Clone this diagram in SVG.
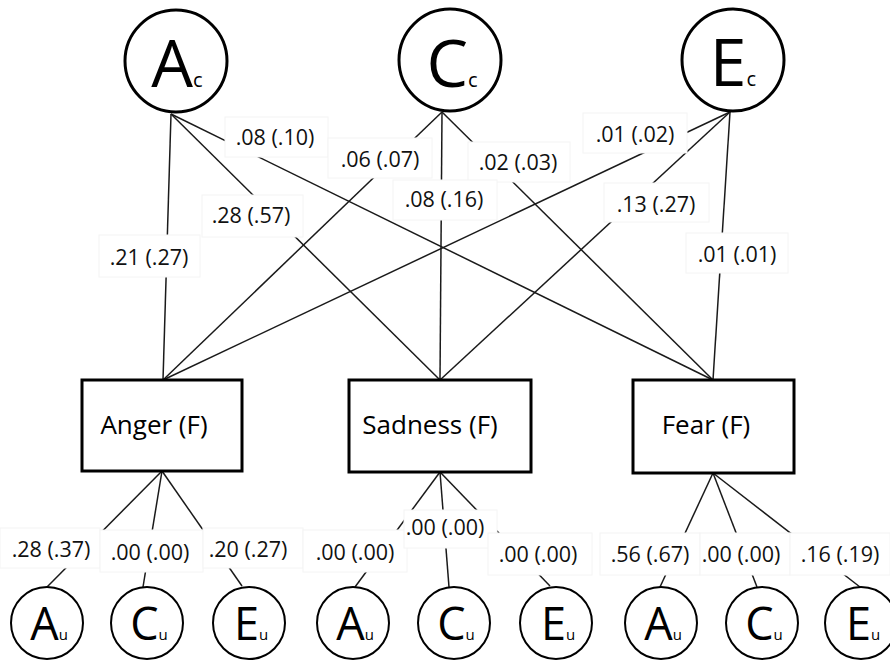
<svg xmlns="http://www.w3.org/2000/svg" width="890" height="662" viewBox="0 0 890 662">
  <style>
    .edge { stroke: #1a1a1a; stroke-width: 1.5; fill: none; }
    .lbl rect { fill: #ffffff; stroke: #f4f4f4; stroke-width: 1; }
    .lbl text { font-family: "Open Sans", "Liberation Sans", sans-serif; font-size: 21.5px; fill: #111; text-anchor: middle; }
    .big { fill: #ffffff; stroke: #000; stroke-width: 3; }
    .small { fill: #ffffff; stroke: #000; stroke-width: 2; }
    .box { fill: #ffffff; stroke: #000; stroke-width: 3; }
    .nt { font-family: "Open Sans", "Liberation Sans", sans-serif; fill: #000; text-anchor: middle; }
  </style>

  <!-- connectors -->
  <g id="connectors" class="edge">
    <!-- common factors to phenotypic factors -->
    <line x1="171" y1="114" x2="163" y2="380"/>
    <line x1="171" y1="114" x2="440" y2="380"/>
    <line x1="171" y1="114" x2="713" y2="380"/>
    <line x1="442" y1="112" x2="163" y2="380"/>
    <line x1="442" y1="112" x2="440" y2="380"/>
    <line x1="442" y1="112" x2="713" y2="380"/>
    <line x1="730" y1="112" x2="163" y2="380"/>
    <line x1="730" y1="112" x2="440" y2="380"/>
    <line x1="730" y1="112" x2="713" y2="380"/>
    <!-- phenotypic factors to unique factors -->
    <line x1="162" y1="471" x2="47" y2="587"/>
    <line x1="162" y1="471" x2="143" y2="587"/>
    <line x1="162" y1="471" x2="242" y2="586"/>
    <line x1="440" y1="472" x2="355" y2="587"/>
    <line x1="440" y1="472" x2="449" y2="587"/>
    <line x1="440" y1="472" x2="550" y2="586"/>
    <line x1="713" y1="473" x2="660" y2="587"/>
    <line x1="713" y1="473" x2="757" y2="587"/>
    <line x1="713" y1="473" x2="860" y2="587"/>
  </g>

  <!-- path coefficients -->
  <g id="labels">
    <g class="lbl"><rect x="225" y="117" width="103" height="40"/><text x="275" y="145">.08 (.10)</text></g>
    <g class="lbl"><rect x="328" y="138" width="104" height="40"/><text x="380" y="167">.06 (.07)</text></g>
    <g class="lbl"><rect x="468" y="142" width="102" height="40"/><text x="518" y="170">.02 (.03)</text></g>
    <g class="lbl"><rect x="583" y="113" width="104" height="40"/><text x="635" y="142">.01 (.02)</text></g>
    <g class="lbl"><rect x="393" y="180" width="104" height="40"/><text x="444" y="207">.08 (.16)</text></g>
    <g class="lbl"><rect x="202" y="195" width="101" height="42"/><text x="251" y="223">.28 (.57)</text></g>
    <g class="lbl"><rect x="604" y="183" width="105" height="39"/><text x="656" y="212">.13 (.27)</text></g>
    <g class="lbl"><rect x="99" y="235" width="101" height="42"/><text x="149" y="265">.21 (.27)</text></g>
    <g class="lbl"><rect x="686" y="233" width="102" height="40"/><text x="737" y="262">.01 (.01)</text></g>

    <g class="lbl"><rect x="0" y="528" width="100" height="40"/><text x="51" y="557">.28 (.37)</text></g>
    <g class="lbl"><rect x="100" y="530" width="103" height="42"/><text x="150" y="560">.00 (.00)</text></g>
    <g class="lbl"><rect x="203" y="528" width="100" height="40"/><text x="248" y="557">.20 (.27)</text></g>
    <g class="lbl"><rect x="303" y="530" width="104" height="42"/><text x="355" y="560">.00 (.00)</text></g>
    <g class="lbl"><rect x="404" y="510" width="93" height="38"/><text x="445" y="535">.00 (.00)</text></g>
    <g class="lbl"><rect x="488" y="533" width="104" height="42"/><text x="538" y="562">.00 (.00)</text></g>
    <g class="lbl"><rect x="600" y="533" width="100" height="42"/><text x="650" y="562">.56 (.67)</text></g>
    <g class="lbl"><rect x="700" y="533" width="90" height="42"/><text x="741" y="562">.00 (.00)</text></g>
    <g class="lbl"><rect x="790" y="533" width="100" height="42"/><text x="840" y="562">.16 (.19)</text></g>
  </g>

  <!-- common (shared) factors -->
  <g id="Ac"><circle class="big" cx="176" cy="61" r="51"/><text class="nt" x="177" y="87"><tspan font-size="66">A</tspan><tspan font-size="20">c</tspan></text></g>
  <g id="Cc"><circle class="big" cx="450" cy="60" r="51"/><text class="nt" x="452" y="87"><tspan font-size="66">C</tspan><tspan font-size="20">c</tspan></text></g>
  <g id="Ec"><circle class="big" cx="733" cy="60" r="51"/><text class="nt" x="733" y="86"><tspan font-size="66">E</tspan><tspan font-size="20">c</tspan></text></g>

  <!-- phenotypic factors -->
  <g id="anger"><rect class="box" x="82" y="380" width="160" height="91"/><text class="nt" x="154" y="434" font-size="26">Anger (F)</text></g>
  <g id="sadness"><rect class="box" x="349" y="380" width="182" height="92"/><text class="nt" x="430" y="434" font-size="26">Sadness (F)</text></g>
  <g id="fear"><rect class="box" x="633" y="380" width="161" height="93"/><text class="nt" x="706" y="434" font-size="26">Fear (F)</text></g>

  <!-- unique factors -->
  <g id="Au1"><circle class="small" cx="47" cy="623" r="36"/><text class="nt" x="49" y="640"><tspan font-size="45">A</tspan><tspan font-size="15">u</tspan></text></g>
  <g id="Cu1"><circle class="small" cx="147" cy="623" r="36"/><text class="nt" x="149" y="640"><tspan font-size="45">C</tspan><tspan font-size="15">u</tspan></text></g>
  <g id="Eu1"><circle class="small" cx="249" cy="623" r="36"/><text class="nt" x="251" y="640"><tspan font-size="45">E</tspan><tspan font-size="15">u</tspan></text></g>
  <g id="Au2"><circle class="small" cx="353" cy="623" r="36"/><text class="nt" x="355" y="640"><tspan font-size="45">A</tspan><tspan font-size="15">u</tspan></text></g>
  <g id="Cu2"><circle class="small" cx="454" cy="623" r="36"/><text class="nt" x="456" y="640"><tspan font-size="45">C</tspan><tspan font-size="15">u</tspan></text></g>
  <g id="Eu2"><circle class="small" cx="556" cy="623" r="36"/><text class="nt" x="558" y="640"><tspan font-size="45">E</tspan><tspan font-size="15">u</tspan></text></g>
  <g id="Au3"><circle class="small" cx="661" cy="623" r="36"/><text class="nt" x="663" y="640"><tspan font-size="45">A</tspan><tspan font-size="15">u</tspan></text></g>
  <g id="Cu3"><circle class="small" cx="762" cy="623" r="36"/><text class="nt" x="764" y="640"><tspan font-size="45">C</tspan><tspan font-size="15">u</tspan></text></g>
  <g id="Eu3"><circle class="small" cx="861" cy="623" r="36"/><text class="nt" x="863" y="640"><tspan font-size="45">E</tspan><tspan font-size="15">u</tspan></text></g>
</svg>
